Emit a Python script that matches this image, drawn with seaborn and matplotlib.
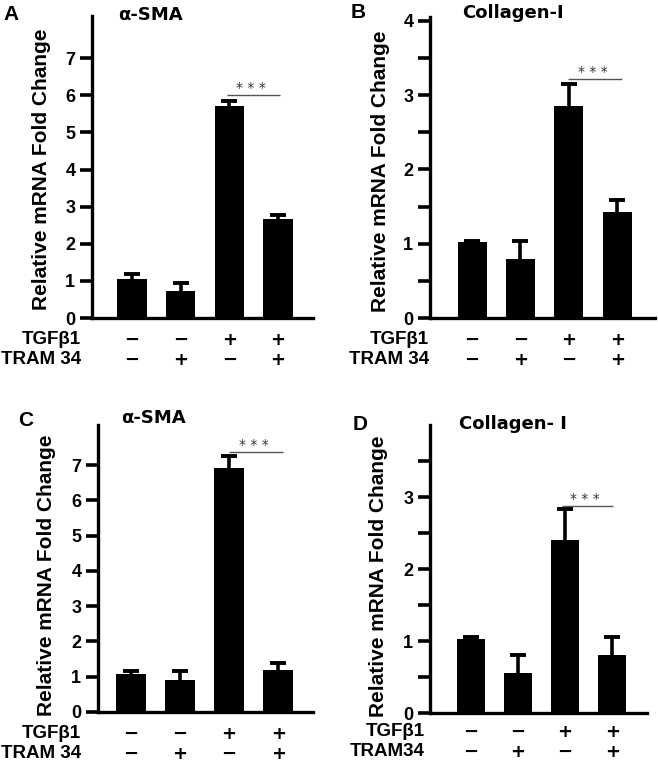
import matplotlib
matplotlib.use("Agg")
import matplotlib.pyplot as plt
from matplotlib import font_manager
import seaborn as sns
import pandas as pd
import numpy as np

# ---------------- data ----------------
groups = ["g1", "g2", "g3", "g4"]
tgfb1_signs = ["\u2212", "\u2212", "+", "+"]
tram34_signs = ["\u2212", "+", "\u2212", "+"]

a_means = [1.05, 0.72, 5.71, 2.68]
a_errs = [0.13, 0.21, 0.14, 0.10]
b_means = [1.02, 0.79, 2.85, 1.43]
b_errs = [0.02, 0.24, 0.30, 0.16]
c_means = [1.07, 0.90, 6.93, 1.20]
c_errs = [0.08, 0.25, 0.32, 0.18]
d_means = [1.03, 0.56, 2.40, 0.80]
d_errs = [0.02, 0.24, 0.43, 0.25]

titles = ["\u03b1-SMA", "Collagen-I", "\u03b1-SMA", "Collagen- I"]
letters = ["A", "B", "C", "D"]
row1_label = "TGF\u03b21"
row2_labels = ["TRAM 34", "TRAM 34", "TRAM 34", "TRAM34"]
ylabel = "Relative mRNA Fold Change"
sig_text = "* * *"

# ---------------- style ----------------
sns.set_style("ticks")
names = {f.name for f in font_manager.fontManager.ttflist}
narrow = "Liberation Sans Narrow" if "Liberation Sans Narrow" in names else "Liberation Sans"
plt.rcParams["font.family"] = ["Liberation Sans", "DejaVu Sans"]
for k in ["text.color", "axes.edgecolor", "axes.labelcolor", "xtick.color", "ytick.color"]:
    plt.rcParams[k] = "black"

W, H = 658, 767
fig = plt.figure(figsize=(W / 100, H / 100), dpi=100)

def px_axes(left, right, top, bottom):
    return [left / W, 1 - bottom / H, (right - left) / W, (bottom - top) / H]

panels = [
    dict(rect=px_axes(92, 313, 16, 318), means=a_means, errs=a_errs, ylim=8.14,
         yticks=np.arange(0, 8, 1), xlim=(-0.82, 3.72),
         sig=(1.95, 3.05, 6.0), rowy=(340, 360), rowx=81,
         title=(150, 15), letter=(11, 15), ylab=(42, 169)),
    dict(rect=px_axes(430, 655, 17, 318), means=b_means, errs=b_errs, ylim=4.05,
         yticks=np.arange(0, 4.01, 0.5), xlim=(-0.87, 3.78),
         sig=(1.98, 3.1, 3.21), rowy=(340, 360), rowx=429,
         title=(513, 13), letter=(358, 13), ylab=(380, 171)),
    dict(rect=px_axes(98, 313, 425, 712), means=c_means, errs=c_errs, ylim=8.14,
         yticks=np.arange(0, 8, 1), xlim=(-0.67, 3.71),
         sig=(2.0, 3.1, 7.37), rowy=(734, 754), rowx=81,
         title=(153, 418), letter=(26, 420), ylab=(47, 575)),
    dict(rect=px_axes(430, 647, 425, 713), means=d_means, errs=d_errs, ylim=4.0,
         yticks=np.arange(0, 3.51, 0.5), xlim=(-0.87, 3.74),
         sig=(1.94, 3.02, 2.87), rowy=(732, 752), rowx=425,
         title=(513, 424), letter=(360, 425), ylab=(378, 576)),
]

for i, p in enumerate(panels):
    ax = fig.add_axes(p["rect"])
    df = pd.DataFrame({"group": groups, "value": p["means"]})
    sns.barplot(data=df, x="group", y="value", order=groups, color="black",
                saturation=1, width=0.6, errorbar=None, ax=ax, linewidth=0)
    xs = np.arange(len(groups))
    eb = ax.errorbar(xs, p["means"], yerr=[np.zeros(len(xs)), p["errs"]], fmt="none",
                     ecolor="black", elinewidth=2.6, capsize=6, capthick=2.8, zorder=3)
    caps = eb[1]
    if len(caps) == 2:
        caps[0].set_visible(False)
    ax.set_xlim(*p["xlim"])
    ax.set_ylim(0, p["ylim"])
    ax.set_yticks(p["yticks"])
    ax.set_yticklabels([str(int(v)) if float(v).is_integer() else "" for v in p["yticks"]])
    ax.set_xticks([])
    ax.set_xlabel("")
    ax.set_ylabel("")
    sns.despine(ax=ax)
    for s in ["left", "bottom"]:
        ax.spines[s].set_linewidth(2.4)
        ax.spines[s].set_color("black")
    ax.tick_params(axis="y", length=9, width=2.6, pad=3, labelsize=13, colors="black")
    for lab in ax.get_yticklabels():
        lab.set_fontweight("bold")

    # significance bar
    x0, x1, ys = p["sig"]
    ax.plot([x0, x1], [ys, ys], color="#555555", lw=1.0, solid_capstyle="butt")
    ax.text((x0 + x1) / 2 - 0.05, ys, sig_text, ha="center", va="bottom",
            fontsize=10, color="#333333", family="DejaVu Sans")

    # +/- rows
    for xi, s1, s2 in zip(xs, tgfb1_signs, tram34_signs):
        xf = ax.transData.transform((xi, 0))[0] / W
        fig.text(xf, 1 - p["rowy"][0] / H, s1, ha="center", va="center",
                 fontsize=13, fontweight="bold", family="DejaVu Sans")
        fig.text(xf, 1 - p["rowy"][1] / H, s2, ha="center", va="center",
                 fontsize=13, fontweight="bold", family="DejaVu Sans")
    fig.text(p["rowx"] / W, 1 - p["rowy"][0] / H, row1_label, ha="right", va="center",
             fontsize=13.5, fontweight="bold", family=[narrow, "DejaVu Sans"])
    fig.text(p["rowx"] / W, 1 - p["rowy"][1] / H, row2_labels[i], ha="right", va="center",
             fontsize=13.5, fontweight="bold", family=[narrow, "DejaVu Sans"])

    # title, letter, ylabel
    fig.text(p["title"][0] / W, 1 - p["title"][1] / H, titles[i], ha="center", va="center",
             fontsize=13, fontweight="bold", family="DejaVu Sans")
    fig.text(p["letter"][0] / W, 1 - p["letter"][1] / H, letters[i], ha="center", va="center",
             fontsize=15, fontweight="bold")
    fig.text(p["ylab"][0] / W, 1 - p["ylab"][1] / H, ylabel, ha="center", va="center",
             rotation=90, fontsize=15, fontweight="bold")

fig.savefig("out.png", dpi=100)
